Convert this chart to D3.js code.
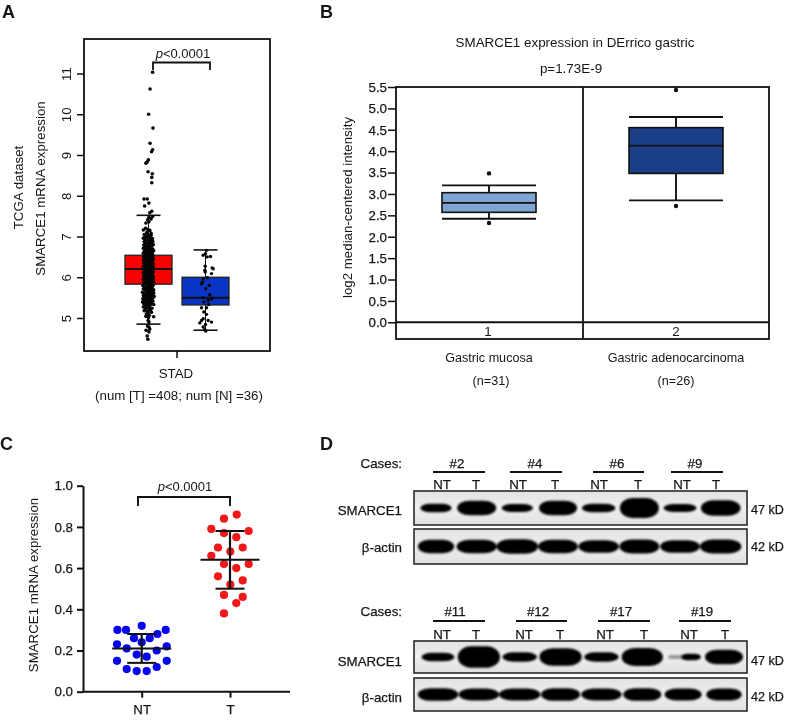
<!DOCTYPE html>
<html><head><meta charset="utf-8">
<script src="https://cdnjs.cloudflare.com/ajax/libs/d3/7.8.5/d3.min.js"></script>
<style>
html,body{margin:0;padding:0;background:#fff;overflow:hidden}
svg{display:block;filter:blur(0.45px)}
text{font-family:"Liberation Sans",Arial,sans-serif;fill:#161616}
.semi{stroke:#161616;stroke-width:.25px}
</style></head><body>
<svg id="fig" width="785" height="720"></svg>
<script>
// ---------- Panel A data: [jitter, value] ----------
const stadGroups = ["T","N"];
const stadTicks = [5,6,7,8,9,10,11];
const stadBoxes = [
 {g:"T",lo:4.85,q1:5.83,med:6.2,q3:6.54,hi:7.52,fill:"#f70000"},
 {g:"N",lo:4.7,q1:5.32,med:5.5,q3:6.0,hi:6.67,fill:"#0a35c4"}];
const tumorPoints = [
[4.8,11.03],[1.8,10.62],[.2,10.0],[5.2,9.66],[1.8,9.29],[4.8,9.13],[3.5,9.08],[-.2,8.88],[-1.5,8.83],[-3,8.8],[-.5,8.59],[4.5,8.54],[3.8,8.45],[3.8,8.32],
[-5.2,7.92],[-1.5,7.92],[.5,7.82],[-4.5,7.75],[3.8,7.62],[1.5,7.58],[4.8,7.49],[.5,7.47],[-1,7.41],[3,7.43],[-3,7.33],[.5,7.36],[-3.5,7.2],[-.8,7.17],[1.5,7.15],[-6,7.16],[-2,7.1],[3,7.08],[-4,6.98],[0,7.0],[-3,6.94],[2.5,6.94],
[-5,7.05],[-1,7.04],[3,7.03],[-3,6.99],[2,7.01],[-6,6.96],[0,6.97],[4.5,6.95],[-2,6.91],[2.5,6.9],[-4,6.92],[-5,6.87],[.5,6.86],[5,6.88],[-3,6.83],[3,6.84],[-.5,6.82],
[-5.5,6.79],[1.5,6.78],[5.5,6.8],[-2,6.77],[-4,6.75],[-.5,6.74],[3.5,6.76],[-6,6.71],[-2,6.7],[1,6.72],[5,6.69],[-3.5,6.67],[0,6.66],[3,6.68],[6,6.65],
[-5,6.63],[-1.5,6.62],[2,6.64],[4.5,6.61],[-6,6.59],[-3,6.58],[.5,6.6],[3.5,6.57],[-4,6.55],[-1,6.54],[2,6.56],[5.5,6.53],[-5.5,6.51],[-2.5,6.5],[1,6.52],[4,6.49],
[-3.5,6.47],[0,6.46],[3,6.48],[5.5,6.45],[-6,6.43],[-1.5,6.42],[2,6.44],[4.5,6.41],[-4.5,6.39],[-2.5,6.38],[.5,6.4],[3.5,6.37],[-5.5,6.35],[-1,6.34],[2.5,6.36],[5.5,6.33],
[-3.5,6.31],[0,6.3],[3.5,6.32],[4.8,6.29],[-6,6.27],[-2,6.26],[1.5,6.28],[5,6.25],[-4,6.23],[-.5,6.22],[2.5,6.24],[5.8,6.21],[-5.5,6.19],[-2.5,6.18],[1,6.2],[3.5,6.17],
[-3.5,6.15],[0,6.14],[3,6.16],[5.5,6.13],[-6,6.11],[-1.5,6.1],[2,6.12],[4.5,6.09],[-4.5,6.07],[-2,6.06],[.5,6.08],[3.5,6.05],[-5.5,6.03],[-1,6.02],[2.5,6.04],[5.5,6.01],
[-3.5,5.99],[0,5.98],[3,6.0],[4.8,5.97],[-6,5.95],[-2,5.94],[1.5,5.96],[5.5,5.93],[-4,5.91],[-.5,5.9],[2.5,5.92],[6,5.89],[-5.5,5.87],[-2.5,5.86],[1,5.88],[3.5,5.85],
[-3.5,5.83],[0,5.82],[3,5.84],[5.5,5.81],[-6.5,5.79],[-1.5,5.78],[2,5.8],[4.5,5.77],[-4.5,5.75],[-2,5.74],[.5,5.76],[3.5,5.73],[-6,5.71],[-1,5.7],[2.5,5.72],[6,5.69],
[-3.5,5.67],[0,5.66],[3,5.68],[5,5.65],[-7,5.63],[-2,5.62],[1.5,5.64],[6,5.61],[-4.5,5.59],[-.5,5.58],[2.5,5.6],[4.5,5.57],[-6,5.55],[-3,5.54],[1,5.56],[6.5,5.53],
[-4,5.51],[0,5.5],[3,5.52],[5,5.49],[-6.5,5.47],[-2,5.46],[1.5,5.48],[4,5.45],[-5,5.43],[-.5,5.42],[2.5,5.44],[-7,5.39],[-3,5.38],[1,5.4],[5,5.41],[-5.5,5.35],[-1,5.34],[3,5.36],
[-4,5.31],[-.5,5.3],[2,5.32],[6,5.33],[-6,5.27],[-2,5.26],[.5,5.28],[-3.5,5.22],[1.5,5.23],[4,5.24],[-5,5.18],[-1.5,5.17],[2,5.19],[-.5,5.13],[3.5,5.14],[-2.5,5.1],[1,5.07],[-3,5.04],[0,5.01],[6,5.03],
[-.5,4.94],[.5,4.9],[-1,4.8],[.5,4.78],[1.5,4.73],[-2.8,4.7],[.5,4.66],[-1.5,4.56],[-.8,4.48]];
const normalPoints = [
[-2.3,6.54],[5,6.51],[0,6.58],[1,6.66],[-.3,6.27],[6.7,6.23],[-.3,6.13],[6,6.09],[2,5.99],[-2.3,5.96],[-4,5.84],[3.7,5.8],[.3,5.72],[4.3,5.57],[6,5.47],[-2.3,5.5],[2.7,5.43],[-1.7,5.39],
[-4,5.25],[1,5.25],[-1.7,5.15],[1,5.09],[2.7,4.94],[-4,4.94],[-5.7,4.88],[6,4.9],[0,4.84],[-2.3,4.78],[-.7,4.71],[.3,4.68],[1.7,6.5],[-3,5.88],[3.3,5.33],[-2.3,4.98],[-.7,6.17],[7.7,6.21]];

// ---------- Panel B data ----------
const oncomineTicks = [0,.5,1,1.5,2,2.5,3,3.5,4,4.5,5,5.5];
const oncomineGroups = ["1","2"];
const oncomineNames = ["Gastric mucosa","Gastric adenocarcinoma"];
const oncomineCounts = ["(n=31)","(n=26)"];
const oncomineBoxes = [
 {g:"1",lo:2.42,q1:2.57,med:2.79,q3:3.03,hi:3.2,out:[3.48,2.32],fill:"#7fa6d2"},
 {g:"2",lo:2.85,q1:3.48,med:4.13,q3:4.55,hi:4.8,out:[5.43,2.72],fill:"#1a3f86"}];

// ---------- Panel C data: [jitter, value] ----------
const scatterGroups = ["NT","T"];
const scatterTicks = [0,.2,.4,.6,.8,1];
const ntPoints = [[-24.3,.30],[-15.7,.30],[0,.32],[15.7,.28],[24,.30],[-7.7,.26],[0,.24],[8,.26],[-24.7,.23],[-15,.21],[-5,.18],[-24.7,.15],[-15,.11],[-5,.10],[5,.10],[15,.12],[25,.15],[25,.22],[15,.20],[5,.17]];
const tPoints = [[6.7,.86],[-6,.84],[-18.7,.79],[18.7,.78],[-6,.77],[6.3,.75],[-12,.70],[12.7,.70],[.3,.68],[-18.7,.66],[-6,.62],[18.7,.62],[6.3,.60],[-12,.56],[12.7,.54],[.3,.52],[-6,.47],[12.7,.46],[6.3,.43],[-6,.38]];
const scatterSummary = [
 {g:"NT",mean:.21,lo:.14,hi:.28,fill:"#0505ee"},
 {g:"T",mean:.64,lo:.50,hi:.78,fill:"#f01818"}];

// ---------- Panel D data: band signal per lane (width, thickness) ----------
const laneLabels = ["NT","T","NT","T","NT","T","NT","T"];
const casesTop = ["#2","#4","#6","#9"];
const casesBottom = ["#11","#12","#17","#19"];
const smarceTopW = [85,108,85,105,92,108,90,110];
const smarceTopH = [20,38,18,38,20,54,18,40];
const actinTopW = [100,112,115,110,112,110,110,115];
const actinTopH = [34,34,38,34,32,36,32,36];
const smarceBotW = [90,118,95,118,95,115,50,105];
const smarceBotH = [20,58,22,46,22,48,14,38];
const actinBotW = [112,112,115,108,112,105,102,98];
const actinBotH = [32,30,30,32,30,32,30,30];

const svg = d3.select("#fig");
const defs = svg.append("defs");
defs.append("filter").attr("id","bandBlur").attr("x","-30%").attr("y","-60%").attr("width","160%").attr("height","220%")
  .append("feGaussianBlur").attr("stdDeviation",1.1);
const grad = defs.append("linearGradient").attr("id","film").attr("x1",0).attr("x2",0).attr("y1",0).attr("y2",1);
grad.append("stop").attr("offset",0).attr("stop-color","#e2e2e2");
grad.append("stop").attr("offset",.5).attr("stop-color","#efefef");
grad.append("stop").attr("offset",1).attr("stop-color","#e0e0e0");

const INK="#111", FS=13.3;
function label(t,x,y,o={}){
  const e=svg.append("text").attr("x",x).attr("y",y).attr("text-anchor",o.a||"middle")
   .attr("dominant-baseline","central").style("font-size",(o.s||FS)+"px").text(t);
  if(o.b)e.style("font-weight","bold");
  if(o.semi)e.classed("semi",true);
  if(o.r)e.attr("transform",`rotate(${o.r} ${x} ${y})`);
  return e;
}
function pval(x,y,size){
  const t=svg.append("text").attr("x",x).attr("y",y).attr("text-anchor","middle")
   .attr("dominant-baseline","central").style("font-size",size+"px");
  t.append("tspan").style("font-style","italic").text("p");
  t.append("tspan").text("<0.0001");
}
function bracket(x0,x1,top,bot,w){
  svg.append("path").attr("d",d3.line()([[x0,bot],[x0,top],[x1,top],[x1,bot]]))
   .attr("fill","none").attr("stroke",INK).attr("stroke-width",w);
}
function styleAxis(g,w){g.selectAll("path,line").attr("stroke",INK).attr("stroke-width",w);g.selectAll("text").style("font-family",'"Liberation Sans",Arial,sans-serif');}

label("A",2,12,{a:"start",s:18,b:1});
label("B",320,12,{a:"start",s:18,b:1});
label("C",0,444,{a:"start",s:18,b:1});
label("D",320,444,{a:"start",s:18,b:1});

// ---------- Panel A ----------
(function(){
 const L=84,R=270,T=39,B=351;
 const y=d3.scaleLinear().domain([5,11]).range([318,73.5]);
 const x=d3.scalePoint().domain(stadGroups).range([148.5,205.5]);
 const jit=d3.scaleLinear().domain([-10,10]).range([-8.6,8.6]);
 const g=svg.append("g");
 stadBoxes.forEach(b=>{
  const cx=x(b.g);
  g.append("line").attr("x1",cx).attr("x2",cx).attr("y1",y(b.lo)).attr("y2",y(b.hi)).attr("stroke",INK).attr("stroke-width",1);
  [b.lo,b.hi].forEach(v=>g.append("line").attr("x1",cx-12).attr("x2",cx+12).attr("y1",y(v)).attr("y2",y(v)).attr("stroke",INK).attr("stroke-width",1.6));
  g.append("rect").attr("x",cx-23.5).attr("width",47).attr("y",y(b.q3)).attr("height",y(b.q1)-y(b.q3)).attr("fill",b.fill).attr("stroke","#222").attr("stroke-width",1.3);
  g.append("line").attr("x1",cx-23.5).attr("x2",cx+23.5).attr("y1",y(b.med)).attr("y2",y(b.med)).attr("stroke","#111").attr("stroke-width",2);
 });
 g.append("g").selectAll("circle").data(tumorPoints).join("circle").attr("cx",d=>x("T")+jit(d[0])).attr("cy",d=>y(d[1])).attr("r",1.8).attr("fill","#050505");
 g.append("g").selectAll("circle").data(normalPoints).join("circle").attr("cx",d=>x("N")+d[0]).attr("cy",d=>y(d[1])).attr("r",1.7).attr("fill","#050505");
 svg.append("rect").attr("x",L).attr("y",T).attr("width",R-L).attr("height",B-T).attr("fill","none").attr("stroke",INK).attr("stroke-width",1.8);
 const ax=svg.append("g").attr("transform",`translate(${L},0)`).call(d3.axisLeft(y).tickValues(stadTicks).tickSize(7).tickPadding(3).tickFormat(d3.format("d")));
 ax.select(".domain").remove(); styleAxis(ax,1.5);
 ax.selectAll("g.tick text").attr("text-anchor","middle").attr("dy",0).attr("x",0).attr("y",0).attr("dominant-baseline","central").style("font-size",FS+"px").attr("transform","translate(-18,0) rotate(-90)");
 svg.append("line").attr("x1",177).attr("x2",177).attr("y1",B).attr("y2",B+7).attr("stroke",INK).attr("stroke-width",1.5);
 label("TCGA dataset",18,187.5,{r:-90});
 label("SMARCE1 mRNA expression",40,188.5,{r:-90});
 label("STAD",176,373);
 label("(num [T] =408; num [N] =36)",179,395);
 bracket(153,210,62.5,70,1.8);
 pval(183,53,13);
})();

// ---------- Panel B ----------
(function(){
 const L=396,R=769,T=87,B=339,mid=583;
 const y=d3.scaleLinear().domain([0,5.5]).range([322.3,87]);
 const x=d3.scalePoint().domain(oncomineGroups).range([489,676]);
 svg.append("rect").attr("x",L).attr("y",T).attr("width",R-L).attr("height",B-T).attr("fill","none").attr("stroke",INK).attr("stroke-width",1.8);
 svg.append("line").attr("x1",mid).attr("x2",mid).attr("y1",T).attr("y2",B).attr("stroke",INK).attr("stroke-width",1.8);
 svg.append("line").attr("x1",L).attr("x2",R).attr("y1",y(0)).attr("y2",y(0)).attr("stroke",INK).attr("stroke-width",2);
 const ax=svg.append("g").attr("transform",`translate(${L},0)`).call(d3.axisLeft(y).tickValues(oncomineTicks).tickSize(8).tickPadding(1).tickFormat(d3.format(".1f")));
 ax.select(".domain").remove(); styleAxis(ax,1.5);
 ax.selectAll("text").style("font-size",FS+"px").classed("semi",true);
 oncomineBoxes.forEach((b,i)=>{
  const cx=x(b.g),hw=47;
  svg.append("line").attr("x1",cx).attr("x2",cx).attr("y1",y(b.lo)).attr("y2",y(b.hi)).attr("stroke",INK).attr("stroke-width",1.9);
  [b.lo,b.hi].forEach(v=>svg.append("line").attr("x1",cx-hw).attr("x2",cx+hw).attr("y1",y(v)).attr("y2",y(v)).attr("stroke",INK).attr("stroke-width",1.9));
  svg.append("rect").attr("x",cx-hw).attr("width",2*hw).attr("y",y(b.q3)).attr("height",y(b.q1)-y(b.q3)).attr("fill",b.fill).attr("stroke",INK).attr("stroke-width",1.6);
  svg.append("line").attr("x1",cx-hw).attr("x2",cx+hw).attr("y1",y(b.med)).attr("y2",y(b.med)).attr("stroke",INK).attr("stroke-width",1.8);
  b.out.forEach(v=>svg.append("circle").attr("cx",cx).attr("cy",y(v)).attr("r",2.2).attr("fill",INK));
  label(b.g,cx-(i?0:1),331);
  label(oncomineNames[i],i?676:489,358,{s:12.6});
  label(oncomineCounts[i],i?676:491,381,{s:12.6});
 });
 label("SMARCE1 expression in DErrico gastric",575,42,{s:13.4});
 label("p=1.73E-9",571,68,{s:13.4});
 label("log2 median-centered intensity",347,207.5,{r:-90});
})();

// ---------- Panel C ----------
(function(){
 const y=d3.scaleLinear().domain([0,1]).range([691.7,485.7]);
 const x=d3.scalePoint().domain(scatterGroups).range([141.7,230]);
 const series={NT:ntPoints,T:tPoints};
 scatterSummary.forEach(s=>{
  const cx=x(s.g);
  svg.append("g").selectAll("circle").data(series[s.g]).join("circle").attr("cx",d=>cx+d[0]).attr("cy",d=>y(d[1])).attr("r",4.1).attr("fill",s.fill);
  svg.append("line").attr("x1",cx).attr("x2",cx).attr("y1",y(s.lo)).attr("y2",y(s.hi)).attr("stroke",INK).attr("stroke-width",2.2);
  svg.append("line").attr("x1",cx-29.5).attr("x2",cx+29.5).attr("y1",y(s.mean)).attr("y2",y(s.mean)).attr("stroke",INK).attr("stroke-width",2);
  [s.lo,s.hi].forEach(v=>svg.append("line").attr("x1",cx-14.5).attr("x2",cx+14.5).attr("y1",y(v)).attr("y2",y(v)).attr("stroke",INK).attr("stroke-width",2));
 });
 const ay=svg.append("g").attr("transform","translate(83,0)").call(d3.axisLeft(y).tickValues(scatterTicks).tickSize(6).tickPadding(4).tickSizeOuter(0).tickFormat(d3.format(".1f")));
 styleAxis(ay,2); ay.selectAll("text").style("font-size",FS+"px").classed("semi",true);
 const ax=svg.append("g").attr("transform","translate(0,691.7)").call(d3.axisBottom(x).tickSize(6).tickSizeOuter(0).tickPadding(7));
 ax.select(".domain").remove(); styleAxis(ax,2); ax.selectAll("text").style("font-size",FS+"px").classed("semi",true);
 svg.append("line").attr("x1",82).attr("x2",290).attr("y1",691.7).attr("y2",691.7).attr("stroke",INK).attr("stroke-width",2);
 label("SMARCE1 mRNA expression",33,585,{r:-90});
 bracket(138,230,497,506,1.9);
 pval(185,486,13);
})();

// ---------- Panel D ----------
function blot(o){
 const lane=d3.scalePoint().domain(d3.range(8)).range(o.laneRange);
 const w=d3.scaleLinear().domain([0,300]).range([3,103]);
 const h=d3.scaleLinear().domain([0,300]).range([2,102]);
 o.panels.forEach(p=>{
  svg.append("rect").attr("x",414).attr("y",p.y0).attr("width",333).attr("height",p.y1-p.y0).attr("fill","url(#film)").attr("stroke","#2a2a2a").attr("stroke-width",1.6);
  const cy=(p.y0+p.y1)/2;
  const shift=i=>(p.shift&&p.shift[i])||0;
  if(p.tail) svg.append("rect").attr("x",lane(p.tail)-15).attr("width",22).attr("y",cy-2).attr("height",4).attr("rx",2).attr("fill","#999").attr("filter","url(#bandBlur)");
  svg.append("g").attr("filter","url(#bandBlur)").selectAll("rect").data(d3.range(8)).join("rect")
   .attr("x",i=>lane(i)+shift(i)-w(p.w[i])/2).attr("width",i=>w(p.w[i]))
   .attr("y",i=>cy-h(p.h[i])/2).attr("height",i=>h(p.h[i]))
   .attr("rx",i=>w(p.w[i])*0.32).attr("ry",i=>h(p.h[i])/2).attr("fill","#020202");
  label(p.name,402,p.labelY,{a:"end",semi:1});
  label(p.kd,751,p.labelY,{a:"start",semi:1,s:12.6});
 });
 label("Cases:",402,o.casesY,{a:"end",semi:1});
 o.cases.forEach((c,i)=>{
  const [a,b]=o.rule[i];
  svg.append("line").attr("x1",a).attr("x2",b).attr("y1",o.ruleY).attr("y2",o.ruleY).attr("stroke",INK).attr("stroke-width",1.9);
  label(c,o.caseX[i],o.casesY,{semi:1});
 });
 laneLabels.forEach((t,i)=>label(t,o.laneX[i],o.laneY,{semi:1}));
}
blot({laneRange:[436,720.7],cases:casesTop,casesY:463,ruleY:472,laneY:484,
 rule:[[433,485],[510,562],[593,644],[671,723]],caseX:[457,535,617,695],
 laneX:[442,476,518,555,599,638,682,716],
 panels:[
  {name:"SMARCE1",kd:"47 kD",y0:491,y1:525,labelY:510,w:smarceTopW,h:smarceTopH},
  {name:"β-actin",kd:"42 kD",y0:529,y1:564,labelY:547,w:actinTopW,h:actinTopH}]});
blot({laneRange:[438,724],cases:casesBottom,casesY:611,ruleY:621,laneY:634,
 rule:[[433,485],[516,567],[598,650],[679,731]],caseX:[455,538,621,702],
 laneX:[442,476,524,560,605,644,689,725],
 panels:[
  {name:"SMARCE1",kd:"47 kD",y0:641,y1:673,labelY:661,w:smarceBotW,h:smarceBotH,shift:[0,0,0,0,0,0,8,0],tail:6},
  {name:"β-actin",kd:"42 kD",y0:678,y1:711,labelY:697,w:actinBotW,h:actinBotH}]});
</script>
</body></html>
